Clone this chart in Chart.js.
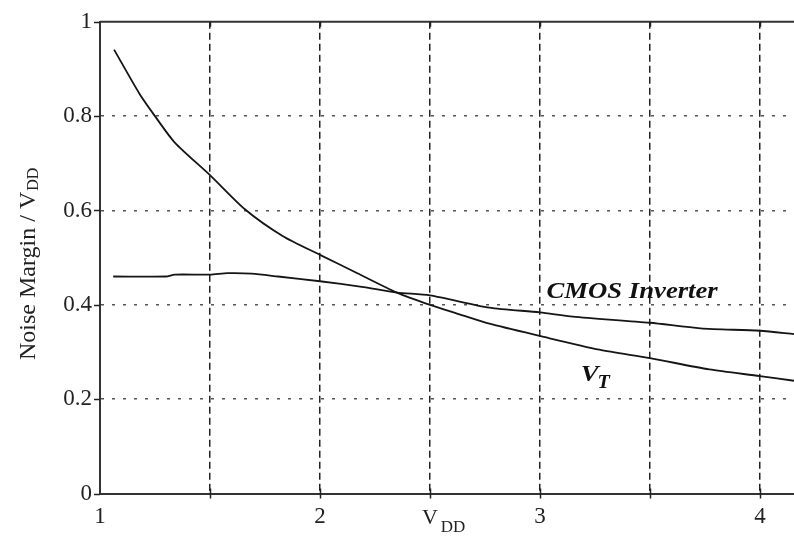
<!DOCTYPE html>
<html>
<head>
<meta charset="utf-8">
<script src="https://cdn.jsdelivr.net/npm/chart.js@4/dist/chart.umd.min.js"></script>
<style>
html,body{margin:0;padding:0;background:#fff;}
#wrap{width:794px;height:536px;position:relative;}
</style>
</head>
<body>
<div id="wrap"><canvas id="c" width="794" height="536"></canvas></div>
<script>
// ---- data ----
const vtX   = [1.064, 1.18, 1.25, 1.34, 1.5, 1.66, 1.83, 2.0, 2.17, 2.35, 2.5, 2.62, 2.77, 3.0, 3.27, 3.5, 3.77, 4.0, 4.155];
const vtY   = [0.941, 0.847, 0.80, 0.744, 0.675, 0.602, 0.546, 0.506, 0.467, 0.426, 0.400, 0.382, 0.360, 0.334, 0.305, 0.287, 0.263, 0.249, 0.239];
const cmosX = [1.06, 1.30, 1.34, 1.5, 1.58, 1.69, 1.81, 2.0, 2.19, 2.35, 2.5, 2.77, 3.0, 3.15, 3.5, 3.73, 4.0, 4.155];
const cmosY = [0.460, 0.460, 0.464, 0.464, 0.467, 0.466, 0.460, 0.450, 0.438, 0.426, 0.420, 0.394, 0.384, 0.375, 0.362, 0.350, 0.345, 0.338];
const xTickValues = [1, 1.5, 2, 2.5, 3, 3.5, 4];
const xTickLabels = ['1', '', '2', '', '3', '', '4'];
const yTickValues = [0, 0.2, 0.4, 0.6, 0.8, 1];
const yTickLabels = ['0', '0.2', '0.4', '0.6', '0.8', '1'];
const xRange = [1, 4.155];
const yRange = [0, 1];
const cmosLabel = 'CMOS Inverter';
const vtLabel = ['V', 'T'];
const xTitle = ['V', 'DD'];
const yTitle = ['Noise Margin / V', 'DD'];

const SERIF = '"Liberation Serif", "DejaVu Serif", serif';
const INK = '#151515';

function pts(xs, ys) { return xs.map((x, i) => ({ x: x, y: ys[i] })); }

const decor = {
  id: 'decor',
  afterDraw(chart) {
    const { ctx, chartArea: a, scales: { x, y } } = chart;
    ctx.save();
    // top frame line
    ctx.strokeStyle = '#333';
    ctx.lineWidth = 2;
    ctx.beginPath();
    ctx.moveTo(a.left, y.getPixelForValue(1));
    ctx.lineTo(a.right, y.getPixelForValue(1));
    ctx.stroke();
    // tick marks
    ctx.lineWidth = 1.5;
    ctx.strokeStyle = '#222';
    xTickValues.forEach(v => {
      if (v === xRange[0]) return;
      const px = Math.round(x.getPixelForValue(v)) + 0.5;
      ctx.beginPath();
      ctx.moveTo(px, a.bottom - 5); ctx.lineTo(px, a.bottom + 5);
      ctx.moveTo(px, a.top); ctx.lineTo(px, a.top + 5);
      ctx.stroke();
    });
    yTickValues.forEach(v => {
      const py = Math.round(y.getPixelForValue(v)) + 0.5;
      ctx.beginPath();
      ctx.moveTo(a.left - 6, py); ctx.lineTo(a.left, py);
      ctx.stroke();
    });
    ctx.fillStyle = '#111';
    ctx.textBaseline = 'alphabetic';
    ctx.textAlign = 'left';
    // curve labels (slightly widened like the reference)
    ctx.save();
    ctx.translate(x.getPixelForValue(3.03), y.getPixelForValue(0.4145));
    ctx.scale(1.16, 1);
    ctx.font = 'italic bold 23px ' + SERIF;
    ctx.fillText(cmosLabel, 0, 0);
    ctx.restore();
    ctx.save();
    ctx.translate(x.getPixelForValue(3.185), y.getPixelForValue(0.238));
    ctx.scale(1.12, 1);
    ctx.font = 'italic bold 24px ' + SERIF;
    ctx.fillText(vtLabel[0], 0, 0);
    const vw = ctx.measureText(vtLabel[0]).width;
    ctx.font = 'italic bold 18px ' + SERIF;
    ctx.fillText(vtLabel[1], vw - 1, 7);
    ctx.restore();
    // x title
    ctx.fillStyle = '#222';
    ctx.font = '22px ' + SERIF;
    const tx = x.getPixelForValue(2.5) - 8, ty = 524;
    ctx.fillText(xTitle[0], tx, ty);
    const tw = ctx.measureText(xTitle[0]).width;
    ctx.font = '17px ' + SERIF;
    ctx.fillText(xTitle[1], tx + tw + 3, ty + 8);
    // y title
    ctx.translate(35, 360);
    ctx.rotate(-Math.PI / 2);
    ctx.font = '24px ' + SERIF;
    ctx.fillText(yTitle[0], 0, 0);
    const yw = ctx.measureText(yTitle[0]).width;
    ctx.font = '16px ' + SERIF;
    ctx.fillText(yTitle[1], yw + 1, 3);
    ctx.restore();
  }
};

new Chart(document.getElementById('c'), {
  type: 'line',
  data: {
    datasets: [
      { label: 'VT', data: pts(vtX, vtY), borderColor: INK, borderWidth: 1.8, pointRadius: 0, fill: false, tension: 0.25 },
      { label: cmosLabel, data: pts(cmosX, cmosY), borderColor: INK, borderWidth: 1.8, pointRadius: 0, fill: false, tension: 0.25 }
    ]
  },
  options: {
    responsive: false,
    animation: false,
    devicePixelRatio: 1,
    layout: { padding: { top: 17, right: 0, bottom: 0, left: 0 } },
    plugins: { legend: { display: false }, tooltip: { enabled: false } },
    scales: {
      x: {
        type: 'linear',
        min: xRange[0], max: xRange[1],
        afterBuildTicks: s => { s.ticks = xTickValues.map(v => ({ value: v })); },
        afterFit: s => { s.height = 42.5; },
        ticks: {
          autoSkip: false, maxRotation: 0, padding: 10, color: '#222',
          font: { family: SERIF, size: 23 },
          callback: (v) => { const i = xTickValues.indexOf(v); return i >= 0 ? xTickLabels[i] : ''; }
        },
        grid: {
          drawTicks: false,
          lineWidth: 1.5,
          color: c => (c.tick && c.tick.value === xRange[0]) ? 'rgba(0,0,0,0)' : '#222'
        },
        border: { display: true, color: '#333', width: 2, dash: [7, 4] }
      },
      y: {
        type: 'linear',
        min: yRange[0], max: yRange[1],
        afterBuildTicks: s => { s.ticks = yTickValues.map(v => ({ value: v })); },
        afterFit: s => { s.width = 100; },
        ticks: {
          autoSkip: false, padding: 8, color: '#222',
          font: { family: SERIF, size: 23 },
          callback: (v) => { const i = yTickValues.indexOf(v); return i >= 0 ? yTickLabels[i] : ''; }
        },
        grid: {
          drawTicks: false,
          lineWidth: 1.5,
          color: c => (c.tick && (c.tick.value === 0 || c.tick.value === 1)) ? 'rgba(0,0,0,0)' : '#555'
        },
        border: { display: true, color: '#333', width: 2, dash: [3, 8] }
      }
    }
  },
  plugins: [decor]
});
</script>
</body>
</html>
